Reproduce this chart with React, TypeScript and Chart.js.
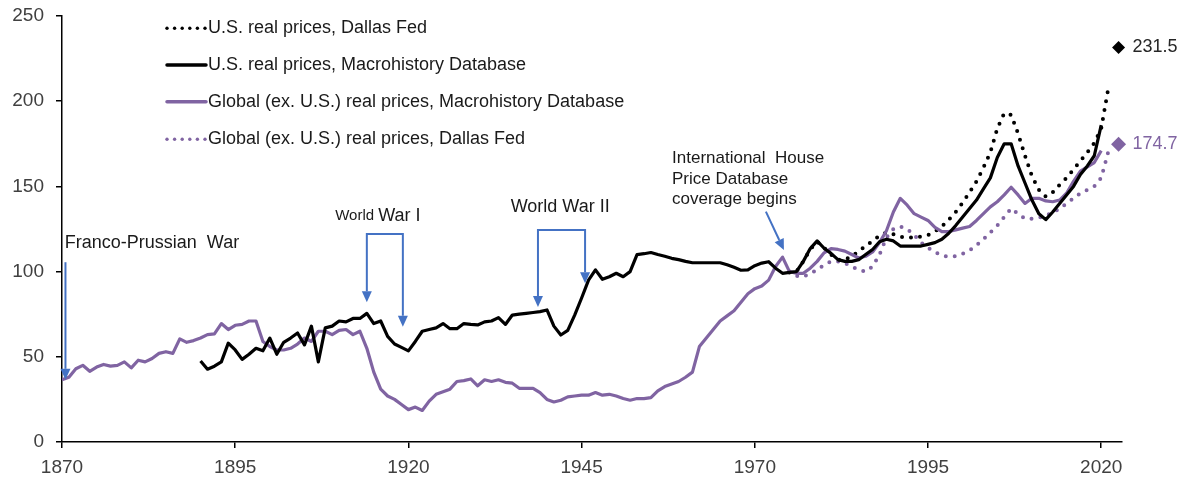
import React, { useEffect, useRef } from "react";
import { Chart, registerables } from "chart.js";

Chart.register(...registerables);

// ---------------- DATA ----------------
const GLOBAL_MACRO_START = 1870;
const globalMacro = [
  36.5, 38, 43, 45, 41.5, 44, 45.5, 44.5, 45, 47, // 1870s
  43.5, 48, 47, 49, 52, 53, 52, 60.5, 58.5, 59.5, // 1880s
  61, 63, 63.5, 69.5, 66, 68.5, 69, 71, 71, 59, // 1890s
  56, 54, 54, 55, 57.5, 61, 59, 65, 65, 63, // 1900s
  65.5, 66, 63, 65, 55, 41, 31, 27, 25, 22, // 1910s
  19, 20.5, 18.5, 24, 28, 29.5, 31, 35.5, 36, 37, // 1920s
  33, 36.5, 35.5, 36.5, 35, 34.5, 31.5, 31.5, 31.5, 29, // 1930s
  25, 23.5, 24.5, 26.5, 27, 27.5, 27.5, 29, 27.5, 28, // 1940s
  27, 25.5, 24.5, 25.5, 25.5, 26, 30, 32.5, 34, 35.5, // 1950s
  38, 41, 56, 61, 66, 71, 74, 77, 82, 87, // 1960s
  90, 91.5, 95, 103, 108.5, 100, 99, 99, 102, 106, // 1970s
  111, 113.5, 113, 112, 110, 108, 109, 111.5, 117, 124, // 1980s
  135, 143, 139, 134, 132, 130, 126, 123.5, 123.5, 124.5, // 1990s
  125.5, 126.5, 130, 134, 138, 141, 145, 149.5, 145, 140, // 2000s
  143, 143, 141.5, 141, 142, 146, 153, 159, 161.5, 164, // 2010s
  171, // 2020
];

const US_MACRO_START = 1890;
const usMacro = [
  47.5, 42.7, 44.5, 47, 58, 54, 48.5, 51.5, 55, 53.5, // 1890s
  61, 51.5, 58.5, 61, 64, 57, 68, 47, 67, 68, // 1900s
  71, 70.5, 72.5, 72.5, 75.5, 69.5, 71, 62, 57.5, 55.5, // 1910s
  53.5, 59, 65, 66, 67, 69.5, 66.5, 66.5, 69.5, 69, // 1920s
  68.7, 70.5, 71, 73, 69, 74.5, 75, 75.5, 76, 76.5, // 1930s
  77.5, 68, 62.8, 65.5, 74.5, 84.5, 95, 101, 95.5, 97, // 1940s
  99, 97, 100, 110, 110.5, 111.2, 110, 109, 107.8, 107, // 1950s
  106, 105.2, 105.2, 105.2, 105.2, 105.2, 104, 102.5, 100.8, 101, // 1960s
  103.5, 105, 105.8, 102, 99, 99.5, 100, 106, 113.5, 118, // 1970s
  113.7, 110.7, 107, 106, 106, 107, 110, 113, 117.5, 119, // 1980s
  118, 115, 115, 115, 115, 116, 117, 119, 122.5, 127, // 1990s
  132, 137, 142, 148.5, 155, 167, 175, 175, 162, 152, // 2000s
  142, 134, 130.5, 135, 140, 145, 150, 157, 162, 168, // 2010s
  186, // 2020
];

const DALLAS_START = 1975;
const usDallas = [
  99.5, 100, 106, 113, 117.5, // 1975-79
  114, 110, 107, 107, 109, 112, 115, 118, 121, 123, // 1980s
  122, 120.5, 120, 120, 120.5, 121.5, 123.5, 126.5, 130.5, 135, // 1990s
  140.5, 146.5, 153, 161, 170, 184, 193, 192, 181, 168, // 2000s
  156, 148, 144, 146.5, 151, 155, 160, 165, 170, 175.5, // 2010s
  184, 207, // 2020-21
];
const globalDallas = [
  100, 97.5, 97, 99, 101, // 1975-79
  104, 106, 106, 105, 103, 101, 100, 103, 110, 120, // 1980s
  125, 126.5, 125, 121.5, 117, 114, 111.5, 109.5, 108.7, 109, // 1990s
  110.5, 112.5, 115.5, 119, 123, 127, 132, 137, 134, 131, // 2000s
  131, 131.5, 133, 134.5, 137, 140, 143, 146, 148, 150, // 2010s
  155, 170, // 2020-21
];

const LATEST_X = 2022.5;
const latestUS = 231.5;
const latestGlobal = 174.7;

const xTickYears = [1870, 1895, 1920, 1945, 1970, 1995, 2020];
const yTickValues = [0, 50, 100, 150, 200, 250];

const seriesLabels = [
  "U.S. real prices, Dallas Fed",
  "U.S. real prices, Macrohistory Database",
  "Global (ex. U.S.) real prices, Macrohistory Database",
  "Global (ex. U.S.) real prices, Dallas Fed",
];

// ---------------- STYLE ----------------
const BLACK = "#000000";
const PURPLE = "#8064A2";
const BLUE = "#4472C4";
const TEXT = "#1a1a1a";
const FONT = "'Liberation Sans', Arial, sans-serif";

function toPoints(start: number, values: number[]) {
  return values.map((v, i) => ({ x: start + i, y: v }));
}

function arrowHead(ctx: CanvasRenderingContext2D, x1: number, y1: number, x2: number, y2: number) {
  const ang = Math.atan2(y2 - y1, x2 - x1);
  const len = 11;
  const half = 5;
  const bx = x2 - Math.cos(ang) * len;
  const by = y2 - Math.sin(ang) * len;
  ctx.beginPath();
  ctx.moveTo(x2, y2);
  ctx.lineTo(bx + Math.sin(ang) * half, by - Math.cos(ang) * half);
  ctx.lineTo(bx - Math.sin(ang) * half, by + Math.cos(ang) * half);
  ctx.closePath();
  ctx.fill();
  return { bx, by };
}

function arrow(ctx: CanvasRenderingContext2D, pts: number[][]) {
  const n = pts.length;
  const [x1, y1] = pts[n - 2];
  const [x2, y2] = pts[n - 1];
  ctx.save();
  ctx.strokeStyle = BLUE;
  ctx.fillStyle = BLUE;
  ctx.lineWidth = 2;
  const { bx, by } = arrowHead(ctx, x1, y1, x2, y2);
  ctx.beginPath();
  ctx.moveTo(pts[0][0], pts[0][1]);
  for (let i = 1; i < n - 1; i++) ctx.lineTo(pts[i][0], pts[i][1]);
  ctx.lineTo(bx, by);
  ctx.stroke();
  ctx.restore();
}

function bracket(ctx: CanvasRenderingContext2D, xl: number, xr: number, top: number, tipL: number, tipR: number) {
  ctx.save();
  ctx.strokeStyle = BLUE;
  ctx.fillStyle = BLUE;
  ctx.lineWidth = 2;
  const a = arrowHead(ctx, xl, top, xl, tipL);
  const b = arrowHead(ctx, xr, top, xr, tipR);
  ctx.beginPath();
  ctx.moveTo(xl, a.by);
  ctx.lineTo(xl, top);
  ctx.lineTo(xr, top);
  ctx.lineTo(xr, b.by);
  ctx.stroke();
  ctx.restore();
}

const overlay = {
  id: "overlay",
  afterDraw(chart: any) {
    const ctx: CanvasRenderingContext2D = chart.ctx;
    const xs = chart.scales.x;
    const ys = chart.scales.y;
    const px = (v: number) => xs.getPixelForValue(v);
    const py = (v: number) => ys.getPixelForValue(v);

    ctx.save();
    ctx.textBaseline = "middle";
    ctx.fillStyle = TEXT;

    // Franco-Prussian war
    ctx.font = `18px ${FONT}`;
    ctx.textAlign = "left";
    ctx.fillText("Franco-Prussian  War", px(1870.4), py(117));
    arrow(ctx, [
      [px(1870.5), py(105.5)],
      [px(1870.5), py(36.5)],
    ]);

    // World War I
    ctx.fillStyle = TEXT;
    ctx.font = `15px ${FONT}`;
    const w1 = "World ";
    const w1b = "War I";
    const w1w = ctx.measureText(w1).width;
    ctx.font = `18px ${FONT}`;
    const w1bw = ctx.measureText(w1b).width;
    const w1x = px(1915.6) - (w1w + w1bw) / 2;
    ctx.font = `15px ${FONT}`;
    ctx.fillText(w1, w1x, py(132.6));
    ctx.font = `18px ${FONT}`;
    ctx.fillText(w1b, w1x + w1w, py(132.6));
    bracket(ctx, px(1914), px(1919.2), py(122), py(82), py(67.7));

    // World War II
    ctx.fillStyle = TEXT;
    ctx.font = `18px ${FONT}`;
    ctx.textAlign = "center";
    ctx.fillText("World War II", px(1941.9), py(138));
    bracket(ctx, px(1938.7), px(1945.5), py(124.4), py(79.2), py(93.1));

    // International House Price Database
    ctx.fillStyle = TEXT;
    ctx.font = `17px ${FONT}`;
    ctx.textAlign = "left";
    ctx.fillText("International  House", px(1958.05), py(166.7));
    ctx.fillText("Price Database", px(1958.05), py(154.4));
    ctx.fillText("coverage begins", px(1958.05), py(142.6));
    arrow(ctx, [
      [px(1971.6), py(135.2)],
      [px(1974.2), py(112.7)],
    ]);

    // Latest value labels
    ctx.font = `18px ${FONT}`;
    ctx.textAlign = "left";
    ctx.fillStyle = "#262626";
    ctx.fillText(latestUS.toFixed(1), px(LATEST_X) + 14, py(latestUS));
    ctx.fillStyle = PURPLE;
    ctx.fillText(latestGlobal.toFixed(1), px(LATEST_X) + 14, py(latestGlobal));

    // Legend
    const rows = [28.3, 65, 101.7, 139.3];
    const styles = [
      { color: BLACK, dotted: true },
      { color: BLACK, dotted: false },
      { color: PURPLE, dotted: false },
      { color: PURPLE, dotted: true },
    ];
    ctx.font = `18px ${FONT}`;
    ctx.textAlign = "left";
    rows.forEach((y, i) => {
      const s = styles[i];
      ctx.save();
      ctx.strokeStyle = s.color;
      ctx.fillStyle = s.color;
      if (s.dotted) {
        for (let k = 0; k < 6; k++) {
          ctx.beginPath();
          ctx.arc(167 + k * 7.6, y, 1.7, 0, Math.PI * 2);
          ctx.fill();
        }
      } else {
        ctx.lineWidth = 3.5;
        ctx.lineCap = "round";
        ctx.beginPath();
        ctx.moveTo(167, y);
        ctx.lineTo(206, y);
        ctx.stroke();
      }
      ctx.restore();
      ctx.fillStyle = TEXT;
      ctx.fillText(seriesLabels[i], 208, y);
    });

    ctx.restore();
  },
};

export default function App() {
  const ref = useRef<HTMLCanvasElement>(null);

  useEffect(() => {
    document.body.style.margin = "0";
    const canvas = ref.current!;
    const chart = new Chart(canvas, {
      type: "line",
      data: {
        datasets: [
          {
            label: "latest",
            type: "scatter",
            data: [
              { x: LATEST_X, y: latestUS },
              { x: LATEST_X, y: latestGlobal },
            ],
            pointStyle: "rectRot",
            pointRadius: [6.5, 7.5],
            pointBackgroundColor: [BLACK, PURPLE],
            pointBorderColor: [BLACK, PURPLE],
            pointBorderWidth: 0,
            showLine: false,
            clip: false,
            order: 0,
          } as any,
          {
            label: seriesLabels[1],
            data: toPoints(US_MACRO_START, usMacro),
            borderColor: BLACK,
            borderWidth: 3.2,
            pointRadius: 0,
            tension: 0,
            borderJoinStyle: "round",
            fill: false,
            order: 1,
          },
          {
            label: seriesLabels[2],
            data: toPoints(GLOBAL_MACRO_START, globalMacro),
            borderColor: PURPLE,
            borderWidth: 3.2,
            pointRadius: 0,
            tension: 0,
            borderJoinStyle: "round",
            fill: false,
            order: 2,
          },
          {
            label: seriesLabels[0],
            data: toPoints(DALLAS_START, usDallas),
            borderColor: BLACK,
            borderWidth: 4,
            borderDash: [0, 9],
            borderCapStyle: "round",
            pointRadius: 0,
            tension: 0,
            fill: false,
            order: 3,
          },
          {
            label: seriesLabels[3],
            data: toPoints(DALLAS_START, globalDallas),
            borderColor: PURPLE,
            borderWidth: 4,
            borderDash: [0, 9],
            borderCapStyle: "round",
            pointRadius: 0,
            tension: 0,
            fill: false,
            order: 4,
          },
        ],
      },
      options: {
        responsive: false,
        animation: false,
        devicePixelRatio: 1,
        layout: { padding: { top: 16, right: 63, left: 0, bottom: 0 } },
        plugins: {
          legend: { display: false },
          tooltip: { enabled: false },
        },
        scales: {
          x: {
            type: "linear",
            min: 1870,
            max: 2023,
            afterBuildTicks: (s: any) => {
              s.ticks = xTickYears.map((v) => ({ value: v }));
            },
            afterFit: (s: any) => {
              s.height = 37;
              s.paddingLeft = 0;
              s.paddingRight = 0;
            },
            ticks: {
              autoSkip: false,
              maxRotation: 0,
              padding: 8,
              color: "#404040",
              font: { family: FONT, size: 19 },
              callback: (v: any) => String(v),
            },
            grid: {
              drawOnChartArea: false,
              drawTicks: true,
              tickLength: 6,
              color: BLACK,
              lineWidth: 1.5,
            },
            border: { display: true, color: BLACK, width: 1.5 },
          },
          y: {
            type: "linear",
            min: 0,
            max: 250,
            afterBuildTicks: (s: any) => {
              s.ticks = yTickValues.map((v) => ({ value: v }));
            },
            afterFit: (s: any) => {
              s.width = 62;
              s.paddingTop = 0;
              s.paddingBottom = 0;
            },
            ticks: {
              padding: 12,
              color: "#404040",
              font: { family: FONT, size: 19 },
              callback: (v: any) => String(v),
            },
            grid: {
              drawOnChartArea: false,
              drawTicks: true,
              tickLength: 6,
              color: BLACK,
              lineWidth: 1.5,
            },
            border: { display: true, color: BLACK, width: 1.5 },
          },
        },
      } as any,
      plugins: [overlay],
    });
    return () => chart.destroy();
  }, []);

  return (
    <div style={{ position: "absolute", left: 0, top: 0, width: 1185, height: 479, background: "#fff" }}>
      <canvas ref={ref} width={1185} height={479} style={{ display: "block" }} />
    </div>
  );
}
